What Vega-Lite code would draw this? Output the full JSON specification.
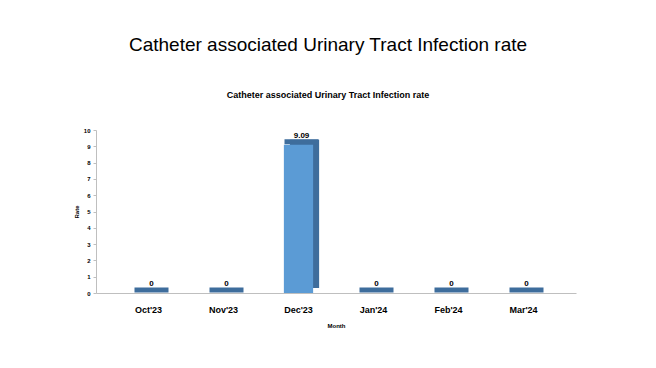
{
  "$schema": "https://vega.github.io/schema/vega-lite/v6.json",
  "width": 480,
  "height": 163,
  "autosize": "none",
  "padding": {"left": 96, "top": 130, "right": 80, "bottom": 75},
  "background": "white",
  "config": {"view": {"stroke": null}},
  "title": {
    "text": "Catheter associated Urinary Tract Infection rate",
    "subtitle": "Catheter associated  Urinary Tract  Infection rate",
    "font": "Liberation Sans",
    "fontSize": 19,
    "fontWeight": "normal",
    "color": "black",
    "subtitleFont": "Liberation Sans",
    "subtitleFontSize": 9,
    "subtitleFontWeight": "bold",
    "subtitleColor": "black",
    "subtitlePadding": 36,
    "offset": 27,
    "anchor": "middle",
    "dx": -8
  },
  "data": {
    "values": [
      {"month": "Oct'23", "rate": 0},
      {"month": "Nov'23", "rate": 0},
      {"month": "Dec'23", "rate": 9.09},
      {"month": "Jan'24", "rate": 0},
      {"month": "Feb'24", "rate": 0},
      {"month": "Mar'24", "rate": 0}
    ]
  },
  "encoding": {
    "x": {
      "field": "month",
      "type": "nominal",
      "sort": null,
      "scale": {"paddingInner": 0, "paddingOuter": 0.2},
      "axis": {
        "title": "Month",
        "labelAngle": 0,
        "labelFont": "Liberation Sans",
        "labelFontSize": 9,
        "labelFontWeight": "bold",
        "labelColor": "black",
        "labelPadding": 12,
        "ticks": false,
        "domainColor": "#BFBFBF",
        "titleFont": "Liberation Sans",
        "titleFontSize": 6,
        "titleFontWeight": "bold",
        "titleColor": "black",
        "titlePadding": 8
      }
    },
    "y": {
      "field": "rate",
      "type": "quantitative",
      "scale": {"domain": [0, 10], "nice": false},
      "axis": {
        "title": "Rate",
        "values": [0, 1, 2, 3, 4, 5, 6, 7, 8, 9, 10],
        "grid": false,
        "labelFont": "Liberation Sans",
        "labelFontSize": 6,
        "labelFontWeight": "bold",
        "labelColor": "black",
        "labelPadding": 3,
        "tickSize": 3,
        "tickColor": "#BFBFBF",
        "domainColor": "#BFBFBF",
        "titleFont": "Liberation Sans",
        "titleFontSize": 6,
        "titleFontWeight": "bold",
        "titleColor": "black",
        "titlePadding": 4
      }
    }
  },
  "layer": [
    {
      "mark": {"type": "bar", "color": "#3E6D9C", "width": {"band": 0.39}, "xOffset": 6, "yOffset": -5}
    },
    {
      "mark": {"type": "tick", "color": "#3E6D9C", "opacity": 1, "orient": "horizontal", "thickness": 5, "size": 34, "xOffset": 3, "yOffset": -3}
    },
    {
      "mark": {"type": "bar", "color": "#5B9BD5", "width": {"band": 0.39}}
    },
    {
      "mark": {"type": "text", "font": "Liberation Sans", "fontSize": 8, "fontWeight": "bold", "color": "black", "yOffset": -9, "xOffset": 3},
      "encoding": {"text": {"field": "rate", "type": "quantitative"}}
    }
  ]
}
